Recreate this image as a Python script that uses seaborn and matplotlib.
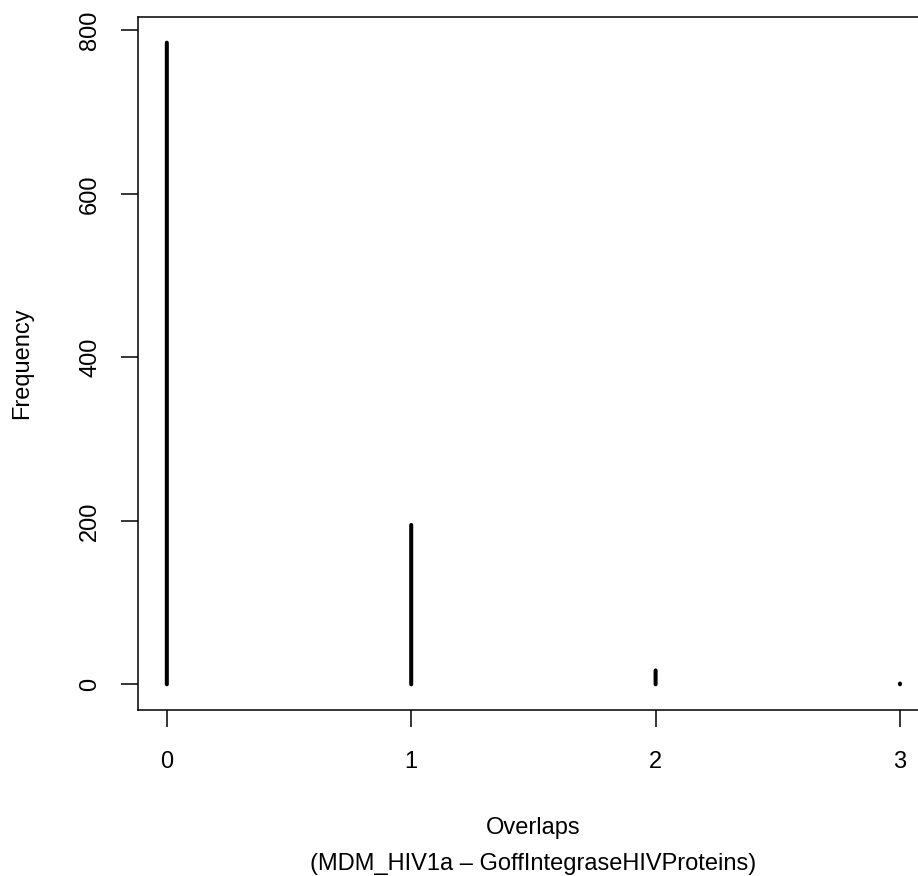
import matplotlib
matplotlib.use("Agg")
import matplotlib.pyplot as plt
import seaborn as sns
import pandas as pd

# Frequency of overlap counts
overlaps = [0, 1, 2, 3]
frequency = [785, 195, 17, 1]
x_ticks = [0, 1, 2, 3]
y_ticks = [0, 200, 400, 600, 800]
x_label = "Overlaps\n(MDM_HIV1a \u2013 GoffIntegraseHIVProteins)"
y_label = "Frequency"

sns.set_theme(style="white")
plt.rcParams["font.family"] = ["Liberation Sans", "DejaVu Sans"]
plt.rcParams["lines.solid_capstyle"] = "round"
plt.rcParams["path.simplify"] = False

# Long-form table: each stem runs from zero up to its frequency
rows = []
for i, (x, f) in enumerate(zip(overlaps, frequency)):
    rows.append({"Overlaps": x, "Frequency": 0, "stem": i})
    rows.append({"Overlaps": x, "Frequency": f, "stem": i})
df = pd.DataFrame(rows)

fig = plt.figure(figsize=(9.18, 8.76), dpi=100)
ax = fig.add_axes([137.5 / 918, 166 / 876, 791.8 / 918, 693 / 876])

sns.lineplot(data=df, x="Overlaps", y="Frequency", units="stem",
             estimator=None, color="black", linewidth=2.9, ax=ax,
             legend=False)
# round ends, no pixel snapping so very short stems still show as dots
for ln in ax.lines:
    ln.set_solid_capstyle("round")
    ln.set_snap(False)

# R-style 4% padding on both axes
xr = max(overlaps) - min(overlaps)
ax.set_xlim(min(overlaps) - 0.04 * xr, max(overlaps) + 0.04 * xr)
ymax = max(frequency)
ax.set_ylim(-0.04 * ymax, 1.04 * ymax)

ax.set_xticks(x_ticks)
ax.set_xticklabels([str(t) for t in x_ticks], fontsize=17)
ax.set_yticks(y_ticks)
ax.set_yticklabels([str(t) for t in y_ticks], fontsize=17,
                   rotation=90, va="center")
ax.tick_params(axis="both", direction="out", length=12.2, width=1.1,
               color="black", labelcolor="black", bottom=True, left=True)
ax.tick_params(axis="x", pad=17)
ax.tick_params(axis="y", pad=14)

for s in ax.spines.values():
    s.set_visible(True)
    s.set_color("black")
    s.set_linewidth(1.1)

ax.set_xlabel(x_label, fontsize=17, color="black", linespacing=1.8,
              labelpad=32)
ax.set_ylabel(y_label, fontsize=17, color="black", labelpad=33)
ax.grid(False)

fig.savefig("out.png", dpi=100, facecolor="white")
